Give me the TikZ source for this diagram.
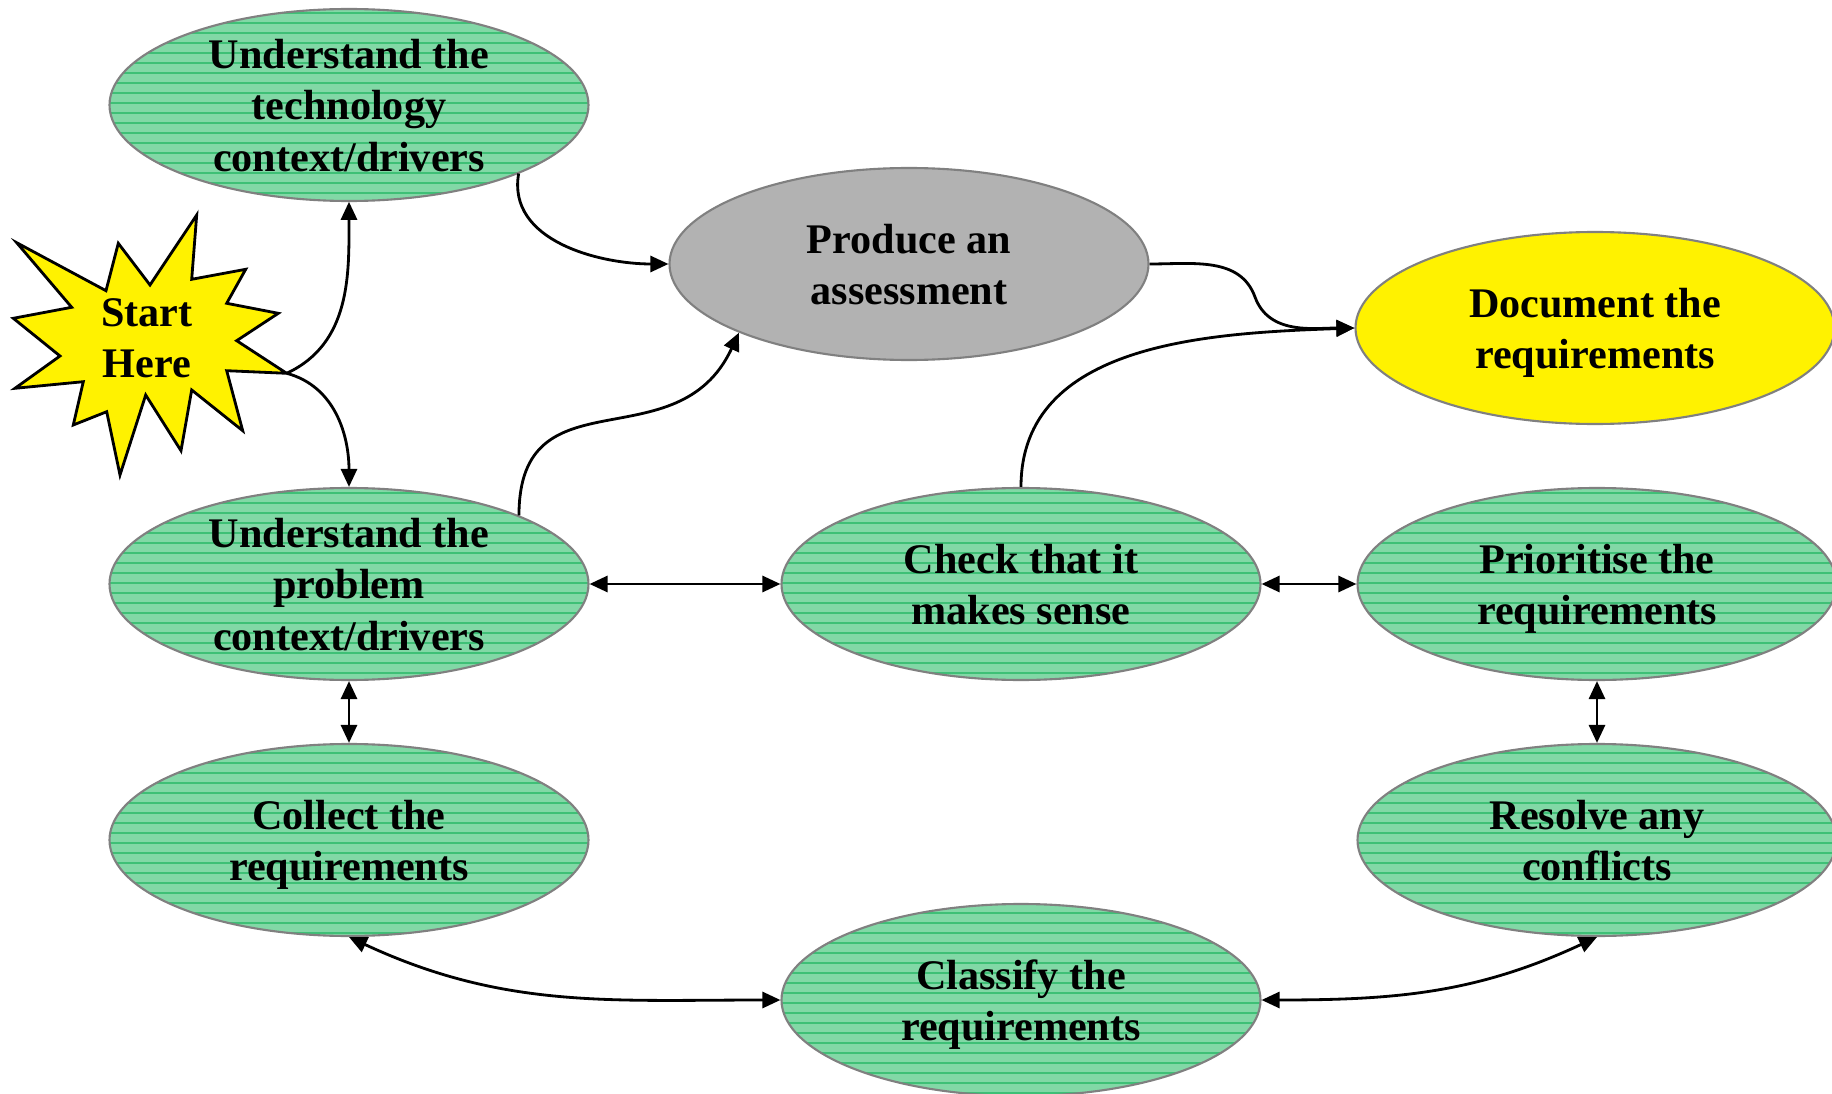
\documentclass[tikz,border=0pt]{standalone}
\usepackage{fontspec}
\setmainfont{Liberation Serif}
\usetikzlibrary{arrows.meta,shapes.geometric,patterns.meta}

\definecolor{stepgreen}{RGB}{130,216,166}
\definecolor{stepline}{RGB}{62,192,118}
\definecolor{assessgrey}{RGB}{178,178,178}
\definecolor{rimgrey}{RGB}{128,128,128}

\tikzset{
  task/.style={ellipse, draw=rimgrey, line width=0.6pt, minimum width=4.79cm,
    minimum height=1.92cm, inner sep=0pt, align=center,
    font=\fontsize{12}{14.6}\selectfont\bfseries,
    text height=23pt, text depth=0pt},
  threeline/.style={text height=37.6pt, text depth=0pt},
  greentask/.style={task, preaction={fill=stepgreen},
    pattern={Lines[angle=0,distance=1mm,line width=0.45pt]}, pattern color=stepline},
  link/.style={line width=0.8pt, -{Triangle[length=1.8mm,width=1.6mm]}},
  twoway/.style={line width=0.8pt, {Triangle[length=1.8mm,width=1.6mm]}-{Triangle[length=1.8mm,width=1.6mm]}},
}

\begin{document}
\begin{tikzpicture}
            \useasboundingbox (0,0) rectangle (18.32,10.93);

            % Start star
            \draw[fill=yellow, line width=0.8pt]
              (0.167,8.503) -- (1.06,8.023) -- (1.183,8.497) -- (1.50,8.08)
              -- (1.967,8.78) -- (1.917,8.137) -- (2.457,8.237) -- (2.267,7.897)
              -- (2.783,7.797) -- (2.367,7.523) -- (2.867,7.197) -- (2.267,7.223)
              -- (2.427,6.623) -- (1.917,7.03) -- (1.81,6.423) -- (1.457,6.98)
              -- (1.20,6.18) -- (1.067,6.813) -- (0.733,6.68) -- (0.833,7.113)
              -- (0.15,7.047) -- (0.60,7.37) -- (0.133,7.747) -- (0.717,7.857) -- cycle;
            \node[font=\fontsize{12}{14.6}\selectfont\bfseries, align=center] (start) at (1.47,7.545) {Start\\Here};
            \coordinate (tip) at (2.867,7.197);

            % Left column
            \node[greentask, threeline] (tech) at (3.49,9.88) {Understand the\\technology\\context/drivers};
            \node[greentask, threeline] (problem) at (3.49,5.09) {Understand the\\problem\\context/drivers};
            \node[greentask] (collect) at (3.49,2.53) {Collect the\\requirements};

            % Middle column
            \node[task, fill=assessgrey] (produce) at (9.09,8.29) {Produce an\\assessment};
            \node[greentask] (check) at (10.21,5.09) {Check that it\\makes sense};
            \node[greentask] (classify) at (10.21,0.93) {Classify the\\requirements};

            % Right column
            \node[task, fill=yellow] (document) at (15.95,7.65) {Document the\\requirements};
            \node[greentask] (prioritise) at (15.97,5.09) {Prioritise the\\requirements};
            \node[greentask] (resolve) at (15.97,2.53) {Resolve any\\conflicts};

            % One-way links
            \coordinate (bend) at (12.55,7.96);
            \draw[link] (tip) to[out=25,in=-90] (tech.south);
            \draw[link] (tip) to[out=-15,in=90] (problem.north);
            \draw[link] (tech.-22) to[out=-100,in=180] (produce.west);
            \draw[link] (problem.22) to[out=90,in=-115,looseness=1.3] (produce.-158);
            \draw[link] (produce.east) to[out=0,in=110] (bend) to[out=-70,in=180] (document.west);
            \draw[link] (check.north) to[out=90,in=182] (document.west);

            % Two-way links
            \draw[twoway] (problem.east) -- (check.west);
            \draw[twoway] (check.east) -- (prioritise.west);
            \draw[twoway] (problem.south) -- (collect.north);
            \draw[twoway] (prioritise.south) -- (resolve.north);
            \draw[twoway] (collect.south) to[out=-25,in=180] (classify.west);
            \draw[twoway] (classify.east) to[out=0,in=-155] (resolve.south);
        \end{tikzpicture}
\end{document}
